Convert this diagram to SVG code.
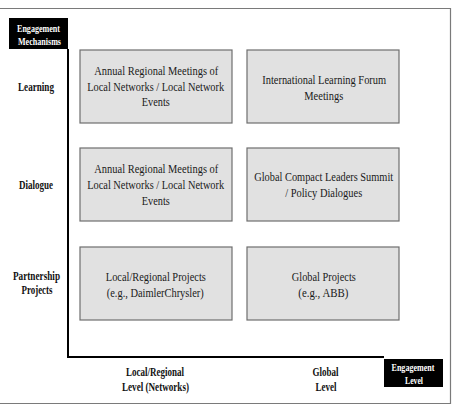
<svg xmlns="http://www.w3.org/2000/svg" width="455" height="415" viewBox="0 0 455 415">
<style>
.frame{fill:none;stroke:#7a7a7a;stroke-width:1.2}
.box{fill:#e1e1e1;stroke:#6e6e6e;stroke-width:1.2}
.hdr{fill:#000}
.axis{fill:none;stroke:#000;stroke-width:2}
.bt{font-family:"Liberation Serif","Times New Roman",serif;font-size:12.5px;fill:#1a1a1a;text-anchor:middle}
.lb{font-family:"Liberation Serif","Times New Roman",serif;font-size:12px;font-weight:bold;fill:#111;text-anchor:middle}
.ht{font-family:"Liberation Serif","Times New Roman",serif;font-size:10px;font-weight:bold;fill:#fff;text-anchor:middle}
</style>
<rect width="455" height="415" fill="#fff"/>
<path class="frame" d="M0 8.5H450.5V403.5H0"/>
<g id="connectors">
<path class="axis" d="M68 49V357H384"/>
</g>
<g id="hdr-mechanisms">
<rect class="hdr" x="9" y="18" width="59" height="31"/>
<text class="ht" x="38.5" y="32" textLength="43" lengthAdjust="spacingAndGlyphs">Engagement</text>
<text class="ht" x="39.5" y="45" textLength="43" lengthAdjust="spacingAndGlyphs">Mechanisms</text>
</g>
<g id="hdr-level">
<rect class="hdr" x="384" y="359" width="59" height="28"/>
<text class="ht" x="413" y="370.5" textLength="43" lengthAdjust="spacingAndGlyphs">Engagement</text>
<text class="ht" x="414" y="383.5" textLength="18" lengthAdjust="spacingAndGlyphs">Level</text>
</g>
<g id="lbl-learning"><text class="lb" x="36" y="91" textLength="36" lengthAdjust="spacingAndGlyphs">Learning</text></g>
<g id="lbl-dialogue"><text class="lb" x="36" y="189" textLength="34" lengthAdjust="spacingAndGlyphs">Dialogue</text></g>
<g id="lbl-partnership">
<text class="lb" x="36.5" y="280" textLength="47" lengthAdjust="spacingAndGlyphs">Partnership</text>
<text class="lb" x="37" y="293.5" textLength="31" lengthAdjust="spacingAndGlyphs">Projects</text>
</g>
<g id="lbl-local">
<text class="lb" x="155" y="376" textLength="58" lengthAdjust="spacingAndGlyphs">Local/Regional</text>
<text class="lb" x="155.5" y="391" textLength="67" lengthAdjust="spacingAndGlyphs">Level (Networks)</text>
</g>
<g id="lbl-global">
<text class="lb" x="325.5" y="376" textLength="26" lengthAdjust="spacingAndGlyphs">Global</text>
<text class="lb" x="326" y="391" textLength="21" lengthAdjust="spacingAndGlyphs">Level</text>
</g>
<g id="box-learning-local">
<rect class="box" x="80" y="50" width="152" height="73"/>
<text class="bt" x="156.3" y="75" textLength="124" lengthAdjust="spacingAndGlyphs">Annual Regional Meetings of</text>
<text class="bt" x="155.7" y="90.5" textLength="137" lengthAdjust="spacingAndGlyphs">Local Networks / Local Network</text>
<text class="bt" x="155.8" y="106" textLength="28" lengthAdjust="spacingAndGlyphs">Events</text>
</g>
<g id="box-learning-global">
<rect class="box" x="247" y="50" width="152" height="73"/>
<text class="bt" x="324.2" y="83.5" textLength="124" lengthAdjust="spacingAndGlyphs">International Learning Forum</text>
<text class="bt" x="323.8" y="100" textLength="39" lengthAdjust="spacingAndGlyphs">Meetings</text>
</g>
<g id="box-dialogue-local">
<rect class="box" x="80" y="148" width="152" height="73"/>
<text class="bt" x="156.3" y="173" textLength="124" lengthAdjust="spacingAndGlyphs">Annual Regional Meetings of</text>
<text class="bt" x="155.7" y="188.5" textLength="137" lengthAdjust="spacingAndGlyphs">Local Networks / Local Network</text>
<text class="bt" x="155.8" y="204.5" textLength="28" lengthAdjust="spacingAndGlyphs">Events</text>
</g>
<g id="box-dialogue-global">
<rect class="box" x="247" y="148" width="152" height="73"/>
<text class="bt" x="323.7" y="180.5" textLength="139" lengthAdjust="spacingAndGlyphs">Global Compact Leaders Summit</text>
<text class="bt" x="323.7" y="197" textLength="77" lengthAdjust="spacingAndGlyphs">/ Policy Dialogues</text>
</g>
<g id="box-partnership-local">
<rect class="box" x="80" y="247" width="152" height="73"/>
<text class="bt" x="155.8" y="280.5" textLength="100" lengthAdjust="spacingAndGlyphs">Local/Regional Projects</text>
<text class="bt" x="155.3" y="297" textLength="97" lengthAdjust="spacingAndGlyphs">(e.g., DaimlerChrysler)</text>
</g>
<g id="box-partnership-global">
<rect class="box" x="247" y="247" width="152" height="73"/>
<text class="bt" x="323.8" y="280.5" textLength="64" lengthAdjust="spacingAndGlyphs">Global Projects</text>
<text class="bt" x="323.3" y="297" textLength="50" lengthAdjust="spacingAndGlyphs">(e.g., ABB)</text>
</g>
</svg>
